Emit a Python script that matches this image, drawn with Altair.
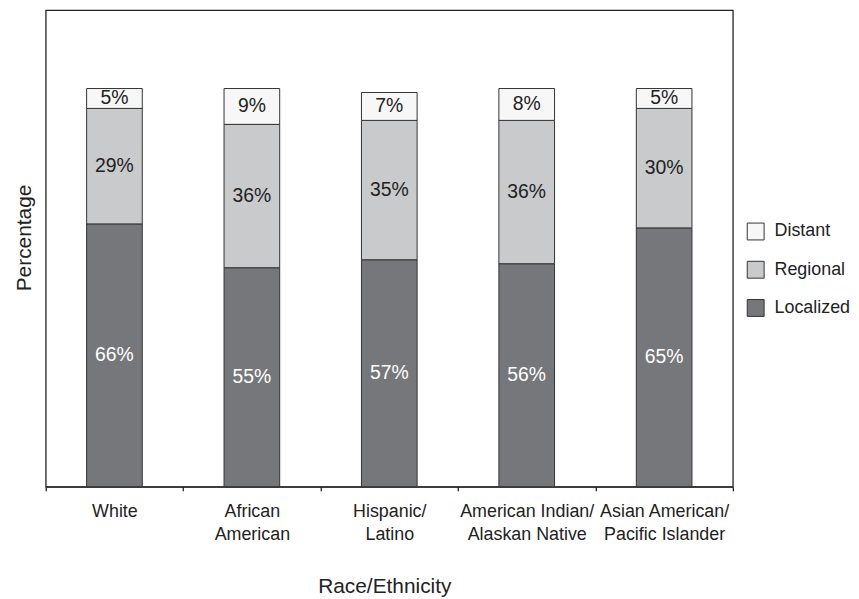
import altair as alt
import pandas as pd

categories = ["White", "African|American", "Hispanic/|Latino",
              "American Indian/|Alaskan Native", "Asian American/|Pacific Islander"]
localized = [66, 55, 57, 56, 65]
regional = [29, 36, 35, 36, 30]
distant = [5, 9, 7, 8, 5]
stages = ["Localized", "Regional", "Distant"]
legend_order = ["Distant", "Regional", "Localized"]
colors = ["#f7f7f7", "#c9cacc", "#76777b"]

rows = []
for i, c in enumerate(categories):
    for r, (s, v) in enumerate(zip(stages, [localized[i], regional[i], distant[i]])):
        rows.append({"cat": c, "stage": s, "value": v, "rank": r, "label": f"{v}%"})
df = pd.DataFrame(rows)

FONT = "Liberation Sans"

base = alt.Chart(df).transform_stack(
    stack="value", groupby=["cat"], as_=["y0", "y1"],
    sort=[alt.SortField("rank", order="ascending")]
).transform_calculate(mid="(datum.y0 + datum.y1) / 2")

xscale = alt.Scale(paddingInner=0, paddingOuter=0)

x = alt.X("cat:N", sort=categories, title="Race/Ethnicity", scale=xscale,
          axis=alt.Axis(labelExpr="split(datum.label, '|')", labelAngle=0,
                        tickBand="extent", tickSize=4, labelPadding=12,
                        labelFontSize=18, labelLineHeight=23, labelColor="#222",
                        labelFont=FONT, titleFont=FONT, titleFontSize=21,
                        titleFontWeight="normal", titleColor="#222",
                        titlePadding=33, titleX=341,
                        domainColor="#222", tickColor="#222",
                        domainWidth=1.3, tickWidth=1.3))

yscale = alt.Scale(domain=[0, 119.7], nice=False, zero=True)

bars = base.mark_bar(stroke="#333", strokeWidth=1,
                     width=alt.RelativeBandSize(0.405)).encode(
    x=x,
    y=alt.Y("y0:Q", scale=yscale, title="Percentage",
            axis=alt.Axis(labels=False, ticks=False, domain=False, grid=False,
                          titleFont=FONT, titleFontSize=21, titleFontWeight="normal",
                          titleColor="#222", titlePadding=11, titleY=229)),
    y2="y1:Q",
    color=alt.Color("stage:N", scale=alt.Scale(domain=legend_order, range=colors),
                    title=None,
                    legend=alt.Legend(orient="none", legendX=706, legendY=214,
                                      symbolType="square", symbolSize=289,
                                      symbolStrokeColor="#333", symbolStrokeWidth=1,
                                      labelFont=FONT, labelFontSize=18, labelColor="#222",
                                      rowPadding=16.5, labelOffset=10)),
)

texts = base.mark_text(font=FONT, fontSize=19.5).encode(
    x=alt.X("cat:N", sort=categories, scale=xscale),
    y=alt.Y("mid:Q", scale=yscale),
    text="label:N",
    color=alt.condition(alt.datum.stage == "Localized", alt.value("white"), alt.value("#222")),
)

chart = alt.layer(bars, texts).properties(
    width=692, height=480,
    padding={"left": 6, "top": 0, "right": 0, "bottom": 0},
    background="white",
).configure_view(stroke="#222", strokeWidth=1.3)

chart.save("out.html", embed_options={"renderer": "svg", "actions": False})
